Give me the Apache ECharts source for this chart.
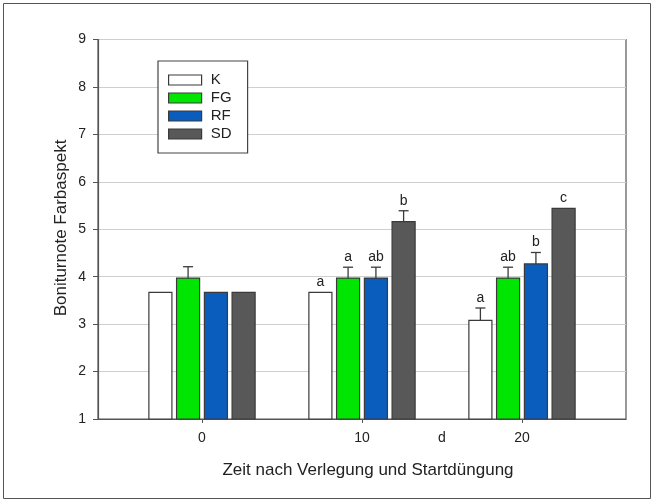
<!DOCTYPE html>
<html>
<head>
<meta charset="utf-8">
<script src="https://cdn.jsdelivr.net/npm/echarts@6/dist/echarts.min.js"></script>
<style>
  html, body { margin: 0; padding: 0; background: #fff; }
  #chart { width: 654px; height: 502px; }
</style>
</head>
<body>
<div id="chart"></div>
<script>
// Sampling days after laying and starter fertilisation
const days = [0, 10, 20];
const dayTicks = [0, 10, 20];
const unitLabelPos = 15;     // where the "d" unit sits on the x axis
const yTicks = [1, 2, 3, 4, 5, 6, 7, 8, 9];

// Mean colour-aspect scores per treatment
const K  = [3.67, 3.67, 3.08];
const FG = [3.97, 3.97, 3.97];
const RF = [3.67, 3.97, 4.27];
const SD = [3.67, 5.16, 5.44];

// Upper error bar lengths (0 = none drawn)
const K_err  = [0, 0, 0.26];
const FG_err = [0.24, 0.23, 0.23];
const RF_err = [0, 0.23, 0.24];
const SD_err = [0, 0.23, 0];

// Significance letters
const K_sig  = ['', 'a', 'a'];
const FG_sig = ['', 'a', 'ab'];
const RF_sig = ['', 'ab', 'b'];
const SD_sig = ['', 'b', 'c'];

const treatments = [
  { name: 'K',  values: K,  errs: K_err,  sig: K_sig,  color: '#ffffff', offset: -2.6 },
  { name: 'FG', values: FG, errs: FG_err, sig: FG_sig, color: '#00e600', offset: -0.87 },
  { name: 'RF', values: RF, errs: RF_err, sig: RF_sig, color: '#0a5dbd', offset: 0.87 },
  { name: 'SD', values: SD, errs: SD_err, sig: SD_sig, color: '#585858', offset: 2.6 }
];

const BAR_W = 1.44;      // bar width in day units
const BASE = 1;          // bars rise from the bottom of the score scale
const FONT = '"Liberation Sans", Arial, sans-serif';
const EDGE = '#3a3a3a';

function makeRenderer(t) {
  return function (params, api) {
    const i = params.dataIndex;
    const x = api.value(0) + t.offset;
    const v = api.value(1);
    const e = api.value(2);
    const b = api.coord([x, BASE]);
    const p = api.coord([x, v]);
    const w = api.size([BAR_W, 0])[0];
    const children = [{
      type: 'rect',
      shape: { x: b[0] - w / 2, y: p[1], width: w, height: b[1] - p[1] },
      style: { fill: t.color, stroke: EDGE, lineWidth: 1.2 }
    }];
    let labelY = p[1];
    if (e > 0) {
      const q = api.coord([x, v + e]);
      children.push({
        type: 'line',
        shape: { x1: p[0], y1: p[1], x2: q[0], y2: q[1] },
        style: { stroke: EDGE, lineWidth: 1.3 }
      });
      children.push({
        type: 'line',
        shape: { x1: q[0] - 5, y1: q[1], x2: q[0] + 5, y2: q[1] },
        style: { stroke: EDGE, lineWidth: 1.3 }
      });
      labelY = q[1];
    }
    if (t.sig[i]) {
      children.push({
        type: 'text',
        style: {
          x: p[0], y: labelY - 3, text: t.sig[i],
          align: 'center', verticalAlign: 'bottom',
          font: '14px ' + FONT, fill: '#222'
        }
      });
    }
    return { type: 'group', children: children };
  };
}

const chart = echarts.init(document.getElementById('chart'), null, { renderer: 'canvas' });

chart.setOption({
  animation: false,
  backgroundColor: '#fff',
  textStyle: { fontFamily: FONT },
  grid: {
    left: 98, right: 28, top: 39.5, bottom: 83,
    show: true, borderColor: '#555', borderWidth: 1.2, backgroundColor: 'transparent'
  },
  legend: {
    orient: 'vertical',
    left: 158, top: 61,
    padding: [11, 16, 11, 10],
    itemWidth: 33, itemHeight: 10, itemGap: 2,
    backgroundColor: '#fff',
    borderColor: '#444', borderWidth: 1.2,
    selectedMode: false,
    formatter: function (n) { return ' ' + n; },
    textStyle: { fontSize: 15, color: '#222', lineHeight: 16, fontFamily: FONT },
    data: treatments.map(t => ({
      name: t.name, icon: 'rect',
      itemStyle: { color: t.color, borderColor: EDGE, borderWidth: 1.2 }
    }))
  },
  xAxis: {
    type: 'value',
    min: -6.5, max: 26.5,
    splitLine: { show: false },
    axisLine: { show: true, onZero: false, lineStyle: { color: '#555', width: 1.2 } },
    axisTick: {
      show: true, inside: false, length: 4,
      customValues: dayTicks,
      lineStyle: { color: '#555' }
    },
    axisLabel: {
      margin: 12, fontSize: 14, color: '#222',
      customValues: dayTicks.concat([unitLabelPos]),
      formatter: function (v) { return v === unitLabelPos ? 'd' : String(v); }
    }
  },
  yAxis: {
    type: 'value',
    min: yTicks[0], max: yTicks[yTicks.length - 1], interval: 1,
    axisLine: { show: true, onZero: false, lineStyle: { color: '#555', width: 1.2 } },
    axisTick: { show: true, inside: false, length: 5, lineStyle: { color: '#555' } },
    axisLabel: { margin: 12, fontSize: 14, color: '#222' },
    splitLine: { show: true, lineStyle: { color: '#cfcfcf', width: 1 } }
  },
  graphic: [
    {
      type: 'rect', silent: true, z: -10,
      shape: { x: 3.5, y: 3.5, width: 647, height: 495 },
      style: { fill: 'none', stroke: '#555', lineWidth: 1 }
    },
    {
      type: 'text', silent: true,
      x: 61, y: 228, rotation: Math.PI / 2,
      style: {
        text: 'Boniturnote Farbaspekt', align: 'center', verticalAlign: 'middle',
        font: '17px ' + FONT, fill: '#222'
      }
    },
    {
      type: 'text', silent: true,
      x: 368, y: 470,
      style: {
        text: 'Zeit nach Verlegung und Startdüngung', align: 'center', verticalAlign: 'middle',
        font: '17px ' + FONT, fill: '#222'
      }
    }
  ],
  series: treatments.map(t => ({
    name: t.name,
    type: 'custom',
    itemStyle: { color: t.color, borderColor: EDGE },
    encode: { x: 0, y: 1 },
    renderItem: makeRenderer(t),
    data: days.map((d, i) => [d, t.values[i], t.errs[i]])
  }))
});
</script>
</body>
</html>
